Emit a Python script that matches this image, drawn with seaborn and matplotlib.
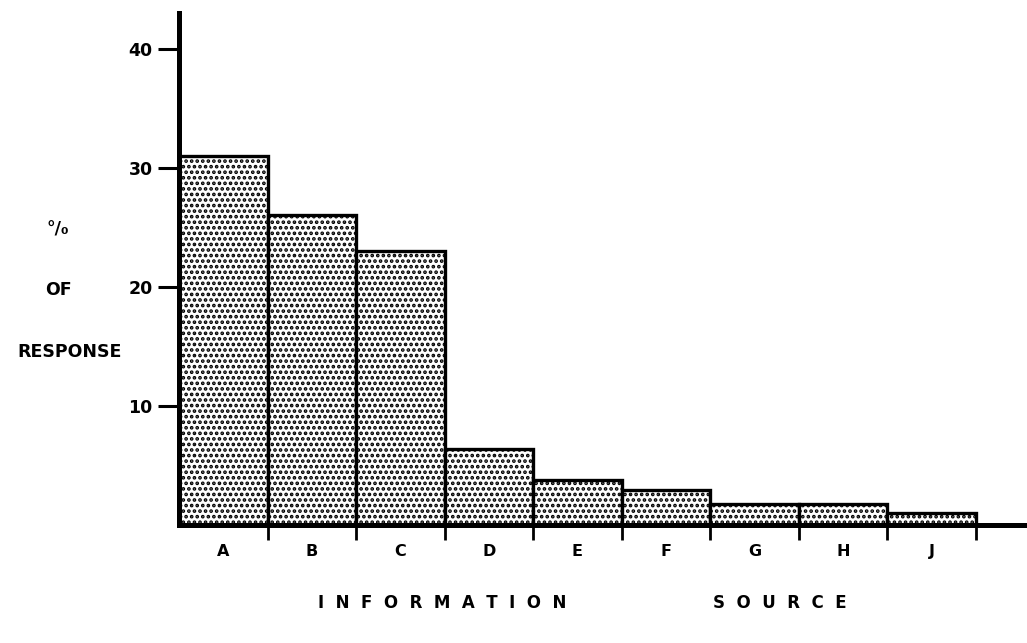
import matplotlib
matplotlib.use("Agg")
import matplotlib.pyplot as plt
import seaborn as sns
import pandas as pd

# Share of responses by information source
sources = ["A", "B", "C", "D", "E", "F", "G", "H", "J"]
percent = [31.0, 26.0, 23.0, 6.4, 3.8, 2.9, 1.8, 1.8, 1.0]
y_ticks = [10, 20, 30, 40]

df = pd.DataFrame({"source": sources, "percent": percent})

sns.set_theme(style="white")
plt.rcParams["font.family"] = ["DejaVu Sans"]
plt.rcParams["hatch.linewidth"] = 1.8
plt.rcParams["hatch.color"] = "black"
plt.rcParams["text.color"] = "black"

fig = plt.figure(figsize=(10.27, 6.43), dpi=100)
ax = fig.add_axes([179 / 1027, 1 - 525 / 643, 1 - 179 / 1027, (525 - 13) / 643])

sns.barplot(data=df, x="source", y="percent", color="white", width=1.0,
            edgecolor="black", linewidth=2.4, saturation=1, ax=ax)
for p in ax.patches:
    p.set_hatch("...")
    p.set_facecolor("white")

ax.set_xlim(-0.5, 9.08)
ax.set_ylim(0, 43.0)

# spines: heavy left and bottom axis lines only
for side in ["top", "right"]:
    ax.spines[side].set_visible(False)
for side in ["left", "bottom"]:
    ax.spines[side].set_linewidth(3.6)
    ax.spines[side].set_color("black")
    ax.spines[side].set_zorder(5)

ax.set_yticks(y_ticks)
ax.set_yticklabels([str(v) for v in y_ticks], fontsize=12.5, fontweight="bold")
ax.tick_params(axis="y", direction="out", length=15, width=2.2, pad=4,
               left=True, colors="black")

# category labels centred under bars, separator ticks on bar edges
ax.set_xticks(range(len(sources)))
ax.set_xticklabels(sources, fontsize=11.5, fontweight="bold")
ax.tick_params(axis="x", which="major", length=0, pad=14, colors="black")
ax.set_xticks([i + 0.5 for i in range(len(sources))], minor=True)
ax.tick_params(axis="x", which="minor", direction="out", length=11, width=2.0,
               bottom=True, colors="black")

ax.set_xlabel("")
ax.set_ylabel("")

label_kw = dict(ha="center", va="center", fontsize=12.5, fontweight="bold",
                color="black")
fig.text(58 / 1027, 1 - 230 / 643, "°/₀", **label_kw)
fig.text(58 / 1027, 1 - 290 / 643, "OF", **label_kw)
fig.text(70 / 1027, 1 - 352 / 643, "RESPONSE", **label_kw)

title_kw = dict(ha="center", va="center", fontsize=12, fontweight="bold",
                color="black")
fig.text(442 / 1027, 1 - 603 / 643, "I  N  F  O  R  M  A  T  I  O  N", **title_kw)
fig.text(780 / 1027, 1 - 603 / 643, "S  O  U  R  C  E", **title_kw)

fig.savefig("out.png", dpi=100, facecolor="white")
